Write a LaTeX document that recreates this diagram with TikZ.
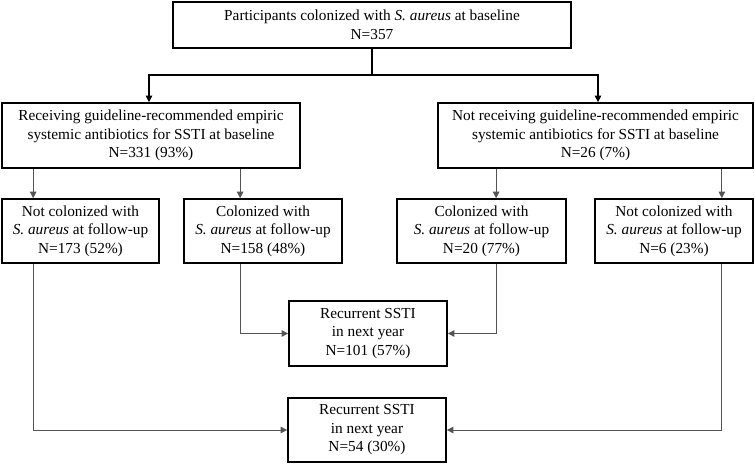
\documentclass[tikz,border=0pt]{standalone}
\usepackage{fontspec}
\setmainfont{Liberation Serif}
\usetikzlibrary{positioning, arrows.meta}
\definecolor{wire}{rgb}{0.33,0.33,0.33}

\begin{document}
\begin{tikzpicture}[
  x=1pt, y=-1pt,
  every node/.style={
    font=\fontsize{15.3}{18.5}\selectfont,
    align=center,
    inner sep=0mm
  },
  box/.style={
    draw=black,
    line width=1.7pt,
    minimum height=65pt
  },
  arr/.style={
    draw=wire,
    line width=0.8pt,
    -{Triangle[length=6.5pt,width=6.5pt]}
  },
  arrtop/.style={
    arr,
    draw=black,
    line width=1.1pt
  },
]

\useasboundingbox (0,0) rectangle (755,465);

\node[box, minimum width=398pt, minimum height=46pt] (top) at (372,25)
  {Participants colonized with \textit{S. aureus} at baseline\\N=357};

\node[box, minimum width=298pt] (recv) at (151,135.5)
  {Receiving guideline-recommended empiric\\systemic antibiotics for SSTI at baseline\\N=331 (93\%)};
\node[box, minimum width=315pt] (norecv) at (595.5,135.5)
  {Not receiving guideline-recommended empiric\\systemic antibiotics for SSTI at baseline\\N=26 (7\%)};

\node[box, minimum width=157pt, minimum height=64pt] (notcolA) at (80.5,231)
  {Not colonized with\\\textit{S. aureus} at follow-up\\N=173 (52\%)};
\node[box, minimum width=158pt, minimum height=64pt] (colA) at (263,231)
  {Colonized with\\\textit{S. aureus} at follow-up\\N=158 (48\%)};
\node[box, minimum width=169pt, minimum height=64pt] (colB) at (481.5,231)
  {Colonized with\\\textit{S. aureus} at follow-up\\N=20 (77\%)};
\node[box, minimum width=158pt, minimum height=64pt] (notcolB) at (674,231)
  {Not colonized with\\\textit{S. aureus} at follow-up\\N=6 (23\%)};

\node[box, minimum width=158pt] (recur1) at (368,333.5)
  {Recurrent SSTI\\in next year\\N=101 (57\%)};
\node[box, minimum width=158pt, minimum height=64pt] (recur2) at (367,430)
  {Recurrent SSTI\\in next year\\N=54 (30\%)};

% split below the top box
\coordinate (split) at (372,75);
\draw[black, line width=1.1pt] (top.south) -- (split);
\draw[arrtop] (split) -| ([xshift=-2pt]recv.north);
\draw[arrtop] (split) -| ([xshift=2.5pt]norecv.north);

% baseline groups to follow-up
\draw[arr] ([xshift=32pt]recv.south west) -- ([xshift=32pt]notcolA.north west);
\draw[arr] ([xshift=239pt]recv.south west) -- ([xshift=57pt]colA.north west);
\draw[arr] ([xshift=59pt]norecv.south west) -- ([xshift=100pt]colB.north west);
\draw[arr] ([xshift=-32pt]norecv.south east) -- ([xshift=-32pt]notcolB.north east);

% follow-up to recurrence
\draw[arr] ([xshift=57pt]colA.south west) |- (recur1.west);
\draw[arr] ([xshift=100pt]colB.south west) |- (recur1.east);
\draw[arr] ([xshift=32pt]notcolA.south west) |- (recur2.west);
\draw[arr] ([xshift=-32pt]notcolB.south east) |- (recur2.east);

\end{tikzpicture}
\end{document}
